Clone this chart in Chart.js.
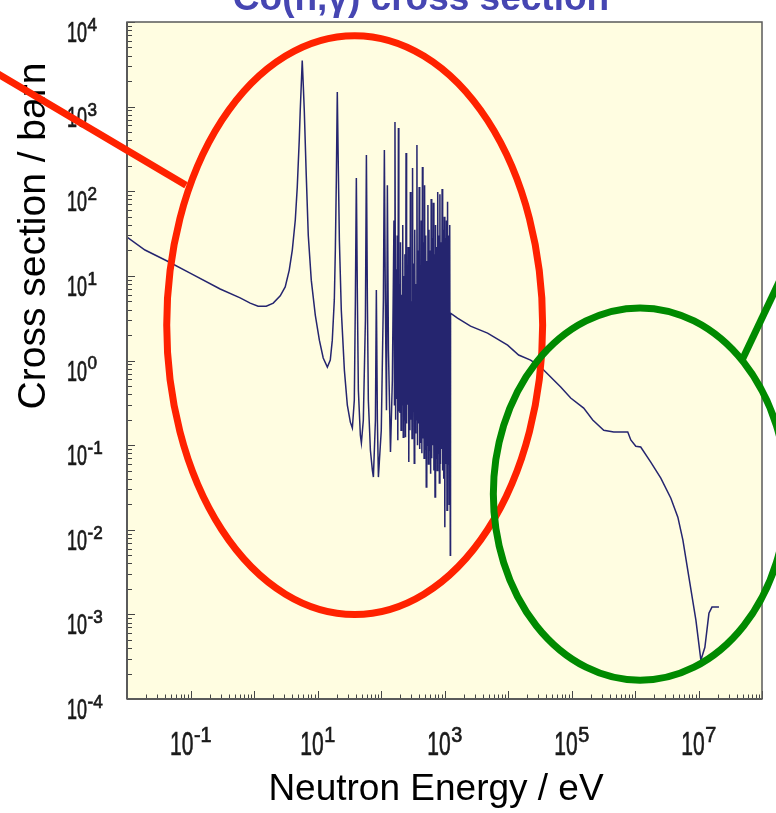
<!DOCTYPE html>
<html>
<head>
<meta charset="utf-8">
<title>Co(n,γ) cross section</title>
<script src="https://cdn.jsdelivr.net/npm/chart.js@4.4.1/dist/chart.umd.min.js"></script>
<style>
  html, body { margin: 0; padding: 0; background: #fff; overflow: hidden; }
  canvas { display: block; }
</style>
</head>
<body>
<canvas id="xs-chart" width="776" height="813"></canvas>
<script>
// Thermal region and the first isolated resonances (eV, barn)
const lowEnergy = [0.01, 0.0192, 0.0428, 0.0986, 0.293, 0.605, 0.871, 1.16, 1.56, 2.01,
  2.59, 3.10, 3.59, 4.01, 4.47, 4.80, 5.16, 5.35, 5.55, 5.75,
  5.97, 6.19, 6.65, 7.16, 7.98, 9.23, 10.7, 12.3, 14.3, 15.9,
  17.1, 18.4, 19.1, 19.8, 20.5, 21.3, 22.1, 23.7, 26.5, 29.5,
  32.9, 35.4, 38.0, 39.5, 40.9, 42.5, 44.0, 47.3, 49.1, 52.7,
  56.8, 58.9, 61.0, 63.2, 68.1, 73.1, 75.9, 81.7, 84.5, 87.7,
  91.0, 101, 109, 113, 117, 122, 126, 131, 141, 151];
const lowSigma = [28.7, 20.2, 15, 10.8, 7.0, 5.5, 4.77, 4.39, 4.39, 4.77,
  5.8, 7.4, 11.7, 20.2, 45.7, 112, 403, 912, 1800, 3500,
  1800, 912, 155, 30, 8.9, 3.44, 1.74, 1.07, 0.836, 1.01,
  1.74, 5.2, 20.2, 136, 1489, 178, 26.5, 3.94, 0.77, 0.297,
  0.187, 0.159, 0.34, 5.2, 143, 5.2, 0.447, 0.131, 0.106, 0.198,
  3.0, 268, 5.2, 0.34, 0.087, 0.0506, 0.0419, 0.198, 6.8, 0.198,
  0.0419, 0.15, 5.2, 307, 5.2, 0.259, 118, 1.33, 0.083, 0.59];

// Dense resolved-resonance block, ~150 eV to ~1.2 keV
const denseEnergy = [160, 163, 166, 170, 173, 177, 180, 184, 188, 191,
  195, 199, 203, 207, 211, 216, 220, 224, 229, 233,
  238, 243, 248, 253, 258, 263, 268, 274, 279, 285,
  290, 296, 302, 308, 314, 321, 327, 334, 340, 347,
  354, 361, 368, 376, 383, 391, 399, 407, 415, 423,
  432, 440, 449, 458, 467, 477, 486, 496, 506, 516,
  526, 537, 548, 559, 570, 581, 593, 605, 617, 629,
  642, 655, 668, 681, 695, 709, 723, 737, 752, 767,
  782, 798, 814, 830, 847, 864, 881, 899, 917, 935,
  954, 973, 992, 1012, 1032, 1053, 1074, 1095, 1117, 1140,
  1162, 1186, 1209, 1234];
const denseSigma = [45, 0.3, 658, 0.2, 12, 0.35, 30, 0.114, 558, 0.25,
  8, 0.24, 25, 0.15, 6, 0.3, 40, 0.124, 10, 0.2,
  18, 0.124, 283, 0.18, 7, 0.3, 22, 0.063, 9, 0.15,
  98, 0.2, 5, 0.12, 188, 0.25, 14, 0.061, 35, 0.14,
  8, 0.2, 351, 0.1, 20, 0.18, 112, 0.09, 12, 0.106,
  45, 0.08, 193, 0.12, 25, 0.07, 118, 0.09, 30, 0.032,
  15, 0.1, 69, 0.06, 35, 0.085, 20, 0.046, 81, 0.07,
  28, 0.1, 73, 0.05, 18, 0.0243, 40, 0.07, 22, 0.05,
  98, 0.08, 30, 0.0356, 92, 0.06, 25, 0.09, 106, 0.05,
  35, 0.04, 50, 0.0107, 28, 0.06, 45, 0.017, 75, 0.06,
  30, 0.02, 40, 0.005];

// Smooth unresolved / fast region up to 20 MeV
const fastEnergy = [1245, 1604, 2570, 4764, 9860, 14700, 22700, 32700, 47000, 67600,
  97100, 155600, 216000, 322000, 463000, 769000, 859000, 1.03e6, 1.23e6, 1.77e6,
  2.55e6, 3.67e6, 4.73e6, 5.68e6, 7.06e6, 9.1e6, 1.09e7, 1.26e7, 1.46e7, 1.63e7, 2.1e7];
const fastSigma = [3.63, 3.17, 2.55, 2.11, 1.52, 1.16, 1.01, 0.836, 0.637, 0.485,
  0.36, 0.274, 0.198, 0.150, 0.143, 0.143, 0.115, 0.097, 0.095, 0.063,
  0.0407, 0.0236, 0.0141, 0.00753, 0.00275, 0.000853, 0.000288, 0.000409, 0.00103, 0.00122, 0.00122];

const xTickExponents = [-1, 1, 3, 5, 7];
const yTickExponents = [-4, -3, -2, -1, 0, 1, 2, 3, 4];

const TITLE = 'Co(n,γ) cross section';
const X_TITLE = 'Neutron Energy / eV';
const Y_TITLE = 'Cross section / barn';

// slide highlights, in data units (centre, half-axes in decades)
const rings = [
  { centre: [38.5, 2.62], decades: [2.96, 3.42], color: '#ff2200' },
  { centre: [1.2e6, 0.0264], decades: [2.31, 2.2], color: '#008a00' },
];
const pointers = [
  { from: [5e-5, 3210], to: [0.085, 118], color: '#ff2200' },
  { from: [4.84e7, 1.01], to: [2.76e8, 15.8], color: '#008a00' },
];

const FONT = '"Liberation Sans", Arial, Helvetica, sans-serif';
const TICK_FONT = '"Liberation Sans Narrow", "Liberation Sans", Arial, sans-serif';
const PLOT_BG = '#fffde1';
const LINE_COLOR = '#25256f';

const points = [];
[[lowEnergy, lowSigma], [denseEnergy, denseSigma], [fastEnergy, fastSigma]].forEach(([es, ss]) => {
  es.forEach((e, i) => points.push({ x: e, y: ss[i] }));
});

// "10" with a superscript exponent, squeezed like the scanned plot
function powerLabel(ctx, exp, x, baseline, size, align) {
  const supSize = Math.round(size * 0.66);
  const sup = String(exp);
  ctx.font = `${size}px ${TICK_FONT}`;
  const sx = (size * 0.69) / ctx.measureText('10').width;
  const wb = size * 0.69;
  ctx.font = `${supSize}px ${FONT}`;
  const ws = ctx.measureText(sup).width * 0.9;
  const left = align === 'center' ? x - (wb + ws) / 2 : x;
  ctx.lineWidth = 0.7;
  ctx.save();
  ctx.translate(left, baseline); ctx.scale(sx, 1);
  ctx.font = `${size}px ${TICK_FONT}`;
  ctx.fillText('10', 0, 0);
  ctx.strokeText('10', 0, 0);
  ctx.restore();
  ctx.save();
  ctx.translate(left + wb + 0.5, baseline - size * 0.38); ctx.scale(0.9, 1);
  ctx.font = `${supSize}px ${FONT}`;
  ctx.fillText(sup, 0, 0);
  ctx.strokeText(sup, 0, 0);
  ctx.restore();
}

function seg(ctx, x1, y1, x2, y2) {
  ctx.beginPath(); ctx.moveTo(x1, y1); ctx.lineTo(x2, y2); ctx.stroke();
}

const slideDecor = {
  id: 'slideDecor',
  beforeDraw(chart) {
    const { ctx, chartArea: a } = chart;
    ctx.save();
    ctx.fillStyle = '#fff';
    ctx.fillRect(0, 0, chart.width, chart.height);
    ctx.fillStyle = PLOT_BG;
    ctx.fillRect(a.left, a.top, a.right - a.left, a.bottom - a.top);
    ctx.restore();
  },
  afterDatasetsDraw(chart) {
    const { ctx, chartArea: a, scales: { x, y } } = chart;
    ctx.save();
    // inward log ticks
    ctx.strokeStyle = '#444';
    ctx.lineWidth = 1;
    for (let d = -2; d <= 8; d++) {
      for (let k = 1; k <= 9; k++) {
        const v = k * Math.pow(10, d);
        if (v > x.max * 1.001) break;
        const px = Math.round(x.getPixelForValue(v)) + 0.5;
        seg(ctx, px, a.bottom, px, a.bottom - (k === 1 ? 8 : 4.5));
      }
    }
    for (let d = -4; d <= 4; d++) {
      for (let k = 1; k <= 9; k++) {
        const v = k * Math.pow(10, d);
        if (v > y.max * 1.001) break;
        const py = Math.round(y.getPixelForValue(v)) + 0.5;
        seg(ctx, a.left, py, a.left + (k === 1 ? 8 : 5), py);
      }
    }
    // frame
    ctx.strokeStyle = '#5a5a5a';
    ctx.lineWidth = 1.5;
    ctx.strokeRect(a.left, a.top, a.right - a.left, a.bottom - a.top);
    ctx.lineWidth = 2;
    seg(ctx, a.left, a.top, a.left, a.bottom);
    seg(ctx, a.left, a.bottom, a.right, a.bottom);
    ctx.restore();
  },
  afterDraw(chart) {
    const { ctx, scales: { x, y } } = chart;
    ctx.save();
    ctx.fillStyle = '#1a1a1a';
    ctx.strokeStyle = '#1a1a1a';
    ctx.textAlign = 'left';
    ctx.textBaseline = 'alphabetic';
    xTickExponents.forEach(e => powerLabel(ctx, e, x.getPixelForValue(Math.pow(10, e)), 755, 34, 'center'));
    yTickExponents.forEach(e => powerLabel(ctx, e, 67, y.getPixelForValue(Math.pow(10, e)) + 20, 29, 'left'));

    // axis titles
    ctx.fillStyle = '#000';
    ctx.textAlign = 'center';
    ctx.font = `37px ${FONT}`;
    ctx.fillText(X_TITLE, 436, 800);
    ctx.save();
    ctx.translate(45, 236);
    ctx.rotate(-Math.PI / 2);
    ctx.font = `39px ${FONT}`;
    ctx.fillText(Y_TITLE, 0, 0);
    ctx.restore();

    // slide title, mostly cut off by the top edge
    ctx.fillStyle = '#4646b2';
    ctx.font = `bold 37px ${FONT}`;
    ctx.fillText(TITLE, 421, 10);

    // highlight rings and pointers
    ctx.lineWidth = 7;
    rings.forEach(r => {
      const cx = x.getPixelForValue(r.centre[0]);
      const cy = y.getPixelForValue(r.centre[1]);
      const rx = x.getPixelForValue(r.centre[0] * Math.pow(10, r.decades[0])) - cx;
      const ry = cy - y.getPixelForValue(r.centre[1] * Math.pow(10, r.decades[1]));
      ctx.strokeStyle = r.color;
      ctx.beginPath();
      ctx.ellipse(cx, cy, rx, ry, 0, 0, Math.PI * 2);
      ctx.stroke();
    });
    pointers.forEach(p => {
      ctx.strokeStyle = p.color;
      seg(ctx, x.getPixelForValue(p.from[0]), y.getPixelForValue(p.from[1]),
        x.getPixelForValue(p.to[0]), y.getPixelForValue(p.to[1]));
    });
    ctx.restore();
  }
};

new Chart(document.getElementById('xs-chart'), {
  type: 'line',
  data: {
    datasets: [{
      data: points,
      borderColor: LINE_COLOR,
      borderWidth: 1.5,
      pointRadius: 0,
      tension: 0,
      fill: false,
    }]
  },
  options: {
    responsive: false, animation: false, devicePixelRatio: 1,
    layout: { padding: { left: 127, top: 22, right: 14, bottom: 114 } },
    plugins: { legend: { display: false }, tooltip: { enabled: false } },
    scales: {
      x: { type: 'logarithmic', min: 1e-2, max: 1e8, display: false },
      y: { type: 'logarithmic', min: 1e-4, max: 1e4, display: false },
    }
  },
  plugins: [slideDecor],
});
</script>
</body>
</html>
